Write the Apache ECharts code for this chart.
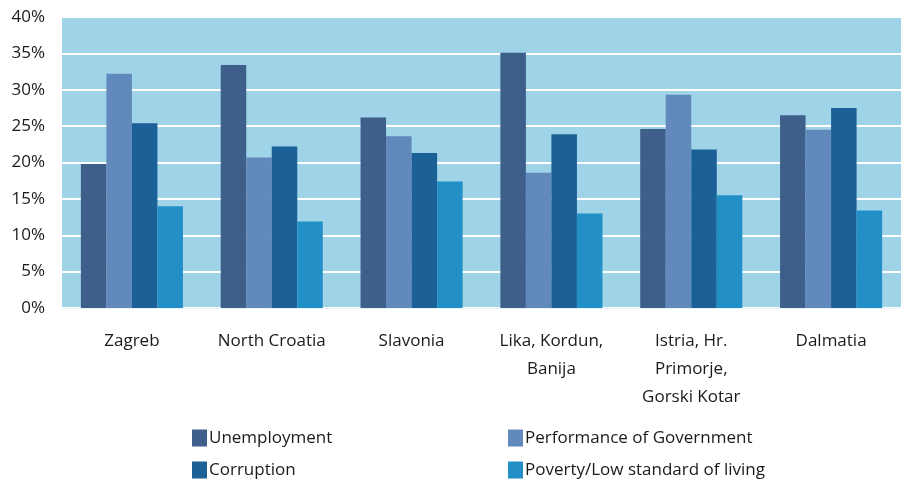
<!DOCTYPE html>
<html>
<head>
<meta charset="utf-8">
<script src="https://cdn.jsdelivr.net/npm/echarts@6/dist/echarts.min.js"></script>
<style>
  html, body { margin: 0; padding: 0; background: #ffffff; }
  #chart { width: 901px; height: 481px; }
</style>
</head>
<body>
<div id="chart"></div>
<script>
// Regions of Croatia and the share naming each problem as the most important one (%)
const regions = ['Zagreb', 'North Croatia', 'Slavonia', 'Lika, Kordun,\nBanija', 'Istria, Hr.\nPrimorje,\nGorski Kotar', 'Dalmatia'];
const unemployment = [19.8, 33.4, 26.2, 35.1, 24.6, 26.5];
const government   = [32.2, 20.7, 23.6, 18.6, 29.3, 24.5];
const corruption   = [25.4, 22.2, 21.3, 23.9, 21.8, 27.5];
const poverty      = [14.0, 11.9, 17.4, 13.0, 15.5, 13.4];
const seriesNames  = ['Unemployment', 'Performance of Government', 'Corruption', 'Poverty/Low standard of living'];
const seriesColors = ['#3e5f8a', '#6189bc', '#1b6096', '#238fc7'];
const seriesData   = [unemployment, government, corruption, poverty];

const font = '"Open Sans", Lato, sans-serif';
const textColor = '#1a1a1a';

const chart = echarts.init(document.getElementById('chart'), null, { renderer: 'canvas' });

// Two stacked legend columns, two entries each
const legendCommon = {
  orient: 'vertical',
  top: 428,
  height: 60,
  itemWidth: 15,
  itemHeight: 17,
  itemGap: 12,
  icon: 'rect',
  padding: 0,
  textStyle: { fontFamily: font, fontSize: 17, lineHeight: 20, color: textColor, padding: [0, 0, 0, -3] }
};

chart.setOption({
  animation: false,
  legend: [
    Object.assign({ left: 192, data: [seriesNames[0], seriesNames[2]] }, legendCommon),
    Object.assign({ left: 508, data: [seriesNames[1], seriesNames[3]] }, legendCommon)
  ],
  grid: {
    left: 62, right: -8, top: 17, bottom: 173,
    show: true, backgroundColor: '#9fd3e8', borderWidth: 0
  },
  xAxis: {
    type: 'category',
    data: regions,
    axisLine: { show: true, lineStyle: { color: '#e6f4fa', width: 1 } },
    axisTick: { show: false },
    axisLabel: {
      fontFamily: font, fontSize: 17, color: textColor,
      margin: 19, lineHeight: 28, interval: 0
    }
  },
  yAxis: {
    type: 'value',
    min: 0, max: 40, interval: 5,
    axisLine: { show: false },
    axisTick: { show: false },
    splitLine: { lineStyle: { color: '#ffffff', width: 2 } },
    axisLabel: {
      fontFamily: font, fontSize: 17, color: textColor, margin: 17,
      formatter: v => v + '%'
    }
  },
  series: seriesData.map((d, i) => ({
    name: seriesNames[i],
    type: 'bar',
    data: d,
    barGap: '0%',
    barCategoryGap: '27%',
    itemStyle: { color: seriesColors[i] }
  }))
});
</script>
</body>
</html>
